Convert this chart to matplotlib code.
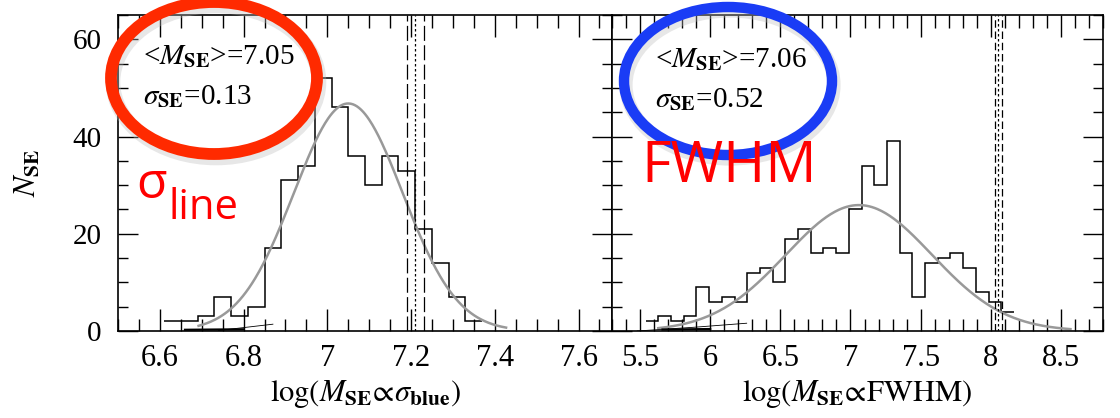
import matplotlib
matplotlib.use('Agg')
import matplotlib.pyplot as plt
import numpy as np
from matplotlib.patches import Ellipse
from matplotlib.ticker import MultipleLocator, FuncFormatter

# left panel: log(M_SE) from sigma_blue
sig_edges = [6.61, 6.65, 6.69, 6.73, 6.77, 6.81, 6.85, 6.89, 6.93, 6.97,
             7.01, 7.05, 7.09, 7.13, 7.17, 7.21, 7.25, 7.29, 7.33, 7.37]
sig_counts = [2, 2, 3, 7, 3, 5, 17, 31, 34, 52, 46, 36, 30, 36, 33, 21, 14, 7, 2]
sig_mean, sig_std, sig_peak = 7.05, 0.13, 46.8
sig_dash = [7.19, 7.23]
sig_dot = [7.21]
sig_tail_x = [6.74, 6.80, 6.87]
sig_tail_y = [0.1, 0.7, 1.4]
sig_base_x = [6.66, 6.80]
sig_base_y = [0.25, 0.35]

# right panel: log(M_SE) from FWHM
fw_edges = [5.540, 5.631, 5.721, 5.812, 5.902, 5.993, 6.083, 6.174, 6.264, 6.355,
            6.445, 6.536, 6.626, 6.717, 6.807, 6.898, 6.988, 7.079, 7.169, 7.260,
            7.350, 7.441, 7.531, 7.622, 7.712, 7.803, 7.893, 7.984, 8.074, 8.165]
fw_counts = [2, 3, 2, 3, 9, 6, 7, 6, 12, 13, 10, 19, 21, 16, 17, 16, 25, 34, 30, 39,
             16, 7, 14, 15, 16, 13, 8, 6, 4]
fw_mean, fw_std, fw_peak = 7.06, 0.52, 25.9
fw_dash = [8.03, 8.08]
fw_dot = [8.055]
fw_tail_x = [5.48, 5.90, 6.26]
fw_tail_y = [0.0, 0.8, 1.6]
fw_base_x = [5.66, 6.00]
fw_base_y = [0.3, 0.4]

plt.rcParams['font.family'] = ['Liberation Serif', 'DejaVu Serif']
plt.rcParams['mathtext.fontset'] = 'stix'

W, H = 1120, 418
fig = plt.figure(figsize=(W / 100, H / 100), dpi=100)

def px_axes(x0, x1, y0, y1):
    return fig.add_axes([x0 / W, 1 - y1 / H, (x1 - x0) / W, (y1 - y0) / H])

ax1 = px_axes(118, 612, 15, 331)
ax2 = px_axes(612, 1103, 15, 331)

def panel(ax, edges, counts, mean, std, peak, dash, dot, tail, base, dashstyle):
    ax.stairs(counts, edges, baseline=None, color='k', lw=1.1)
    gx = np.linspace(mean - 2.75 * std, mean + 2.9 * std, 300)
    ax.plot(gx, peak * np.exp(-0.5 * ((gx - mean) / std) ** 2), color='#999999', lw=1.8)
    for v in dash:
        ax.axvline(v, color='k', lw=0.9, ls=dashstyle)
    for v in dot:
        ax.axvline(v, color='k', lw=0.9, ls=(0, (2, 2)))
    ax.plot(tail[0], tail[1], color='k', lw=0.6)
    ax.plot(base[0], base[1], color='k', lw=1.6)
    ax.set_ylim(0, 65)
    ax.yaxis.set_major_locator(MultipleLocator(20))
    ax.yaxis.set_minor_locator(MultipleLocator(5))
    ax.tick_params(which='both', direction='in', top=True, right=True, width=1.0,
                   labelsize=21, colors='k')
    ax.tick_params(axis='x', which='major', length=16, pad=9, labelsize=22)
    ax.tick_params(axis='x', which='minor', length=9)
    ax.tick_params(axis='y', which='major', length=14.5, pad=12)
    ax.tick_params(axis='y', which='minor', length=7)
    ax.xaxis.set_major_formatter(FuncFormatter(lambda v, p: f'{v:g}'))
    for s in ax.spines.values():
        s.set_linewidth(1.2)

panel(ax1, sig_edges, sig_counts, sig_mean, sig_std, sig_peak, sig_dash, sig_dot,
      (sig_tail_x, sig_tail_y), (sig_base_x, sig_base_y), (0, (12, 3.5)))
ax1.set_xlim(6.5, 7.68)
ax1.xaxis.set_major_locator(MultipleLocator(0.2))
ax1.xaxis.set_minor_locator(MultipleLocator(0.05))
ax1.set_xlabel(r'$\log(M_{\mathbf{SE}}\!\propto\!\sigma_{\mathbf{blue}})$', fontsize=22, labelpad=4)
ax1.set_ylabel(r'$N_{\mathbf{SE}}$', fontsize=22, labelpad=22)

panel(ax2, fw_edges, fw_counts, fw_mean, fw_std, fw_peak, fw_dash, fw_dot,
      (fw_tail_x, fw_tail_y), (fw_base_x, fw_base_y), (0, (6, 3)))
ax2.set_xlim(5.3, 8.8)
ax2.xaxis.set_major_locator(MultipleLocator(0.5))
ax2.xaxis.set_minor_locator(MultipleLocator(0.1))
ax2.tick_params(axis='y', labelleft=False)
ax2.set_xlabel(r'$\log(M_{\mathbf{SE}}\!\propto\!\mathrm{FWHM})$', fontsize=22, labelpad=4)

# overlay in pixel units for the annotations
ov = fig.add_axes([0, 0, 1, 1], zorder=10)
ov.set_xlim(0, W)
ov.set_ylim(H, 0)
ov.axis('off')
ov.patch.set_alpha(0)

ov.text(143, 57, r'<$M_{\mathbf{SE}}$>=7.05', fontsize=21, va='center')
ov.text(143, 97, r'$\sigma_{\mathbf{SE}}$=0.13', fontsize=21, va='center')
ov.text(655, 60, r'<$M_{\mathbf{SE}}$>=7.06', fontsize=21, va='center')
ov.text(655, 100, r'$\sigma_{\mathbf{SE}}$=0.52', fontsize=21, va='center')

for (cx, cy, ew, eh, col, lw) in [(214, 78, 206, 152, '#ff2a00', 8.5),
                                  (728, 81, 208, 148, '#1a3cf5', 7.5)]:
    ov.add_patch(Ellipse((cx + 2, cy + 4), ew, eh, fill=False, ec='#bbbbbb',
                         lw=lw + 2, alpha=0.35))
    ov.add_patch(Ellipse((cx, cy), ew, eh, fill=False, ec=col, lw=lw))

red_font = ['Open Sans', 'DejaVu Sans']
ov.text(136, 198, 'σ', color='red', fontsize=36, family=red_font, va='baseline')
ov.text(169, 219, 'line', color='red', fontsize=30, family=red_font, va='baseline')
ov.text(641, 182, 'FWHM', color='red', fontsize=41, family=red_font, va='baseline')

fig.savefig('out.png', dpi=100)
